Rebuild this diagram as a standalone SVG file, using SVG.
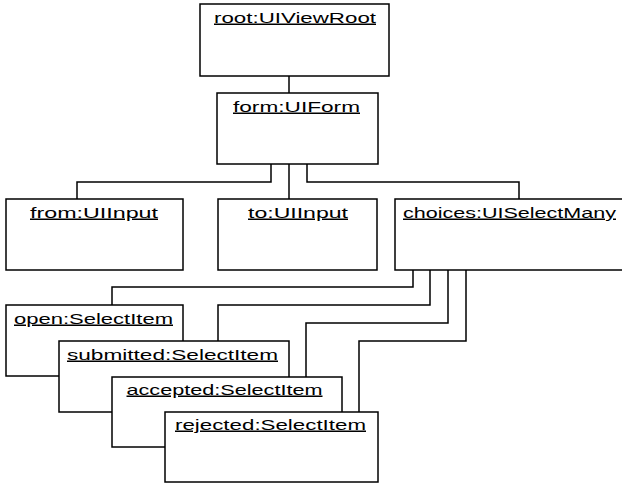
<svg xmlns="http://www.w3.org/2000/svg" width="622" height="484" viewBox="0 0 622 484">
  <style>
    .box { fill: #ffffff; stroke: #000000; stroke-width: 1.5; }
    .wire { fill: none; stroke: #000000; stroke-width: 1.5; }
    .label { font-family: "Liberation Sans", Arial, Helvetica, sans-serif; font-size: 15px; fill: #000000; text-anchor: middle; text-decoration: underline; }
  </style>
  <rect width="622" height="484" fill="#ffffff"/>

  <!-- composition links between component instances -->
  <g id="connectors">
    <path class="wire" d="M289,76 V93"/>
    <path class="wire" d="M271,164 V182 H77 V199"/>
    <path class="wire" d="M289,164 V199"/>
    <path class="wire" d="M307,164 V182 H519 V199"/>
    <path class="wire" d="M413,270 V287 H112 V305"/>
    <path class="wire" d="M430,270 V305 H218 V341"/>
    <path class="wire" d="M448,270 V323 H306 V377"/>
    <path class="wire" d="M466,270 V341 H359 V412"/>
  </g>

  <g id="root">
    <rect class="box" x="200" y="4" width="189" height="72"/>
    <text class="label" x="295" y="22.5" textLength="162" lengthAdjust="spacingAndGlyphs">root:UIViewRoot</text>
  </g>

  <g id="form">
    <rect class="box" x="217" y="93" width="161" height="71"/>
    <text class="label" x="296.5" y="111.5" textLength="127" lengthAdjust="spacingAndGlyphs">form:UIForm</text>
  </g>

  <g id="from">
    <rect class="box" x="6" y="199" width="177" height="71"/>
    <text class="label" x="94" y="217.5" textLength="128" lengthAdjust="spacingAndGlyphs">from:UIInput</text>
  </g>

  <g id="to">
    <rect class="box" x="218" y="199" width="159" height="71"/>
    <text class="label" x="298" y="217.5" textLength="100" lengthAdjust="spacingAndGlyphs">to:UIInput</text>
  </g>

  <g id="choices">
    <rect class="box" x="395" y="199" width="230" height="71"/>
    <text class="label" x="509.5" y="217.5" textLength="213" lengthAdjust="spacingAndGlyphs">choices:UISelectMany</text>
  </g>

  <g id="open">
    <rect class="box" x="6" y="305" width="177" height="71"/>
    <text class="label" x="93.5" y="323.5" textLength="159" lengthAdjust="spacingAndGlyphs">open:SelectItem</text>
  </g>

  <g id="submitted">
    <rect class="box" x="59" y="341" width="230" height="71"/>
    <text class="label" x="172.5" y="359.5" textLength="211" lengthAdjust="spacingAndGlyphs">submitted:SelectItem</text>
  </g>

  <g id="accepted">
    <rect class="box" x="112" y="377" width="230" height="70"/>
    <text class="label" x="224.5" y="394.5" textLength="196" lengthAdjust="spacingAndGlyphs">accepted:SelectItem</text>
  </g>

  <g id="rejected">
    <rect class="box" x="165" y="412" width="213" height="70"/>
    <text class="label" x="270.5" y="429.5" textLength="191" lengthAdjust="spacingAndGlyphs">rejected:SelectItem</text>
  </g>
</svg>
